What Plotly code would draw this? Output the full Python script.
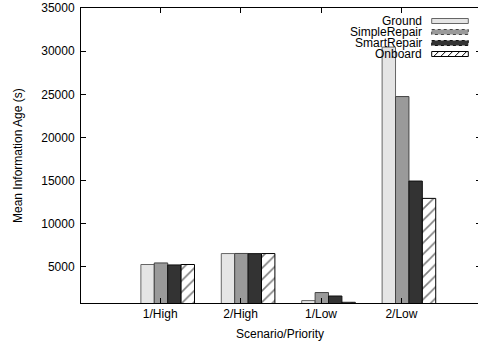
import plotly.graph_objects as go

# ---- data ----
categories = ["1/High", "2/High", "1/Low", "2/Low"]
series_names = ["Ground", "SimpleRepair", "SmartRepair", "Onboard"]
ground = [5280, 6550, 1100, 30470]
simple_repair = [5460, 6560, 2030, 24740]
smart_repair = [5230, 6540, 1630, 14950]
onboard = [5280, 6550, 900, 12940]
y_ticks = [5000, 10000, 15000, 20000, 25000, 30000, 35000]

# ---- layout constants ----
W, H = 478, 343
L, R, T, B = 81, 0, 8, 40
PW, PH = W - L - R, H - T - B
FONT = "Liberation Sans, Arial, Helvetica, sans-serif"
FS = 12


def px(x):
    return (x - L) / PW


def py(y):
    return (H - B - y) / PH


styles = [
    dict(color="#e5e5e5", line=dict(color="#666666", width=1), pattern=None),
    dict(color="#9a9a9a", line=dict(color="#444444", width=1), pattern=None),
    dict(color="#333333", line=dict(color="#111111", width=1), pattern=None),
    dict(color="white", line=dict(color="black", width=1),
         pattern=dict(shape="/", fgcolor="black", bgcolor="white", size=8, solidity=0.2)),
]

bw = 1 / 6
idx = list(range(len(categories)))
fig = go.Figure()
for j, (name, vals) in enumerate(zip(series_names, [ground, simple_repair, smart_repair, onboard])):
    st = styles[j]
    marker = dict(color=st["color"], line=st["line"])
    if st["pattern"]:
        marker["pattern"] = st["pattern"]
    fig.add_trace(go.Bar(
        x=[i + (j - 1.5) * bw for i in idx], y=vals, width=bw, name=name,
        marker=marker, showlegend=False,
    ))

# invisible trace to activate right mirror y axis
fig.add_trace(go.Scatter(x=[0], y=[y_ticks[0]], yaxis="y2", mode="markers",
                         marker=dict(opacity=0), showlegend=False, hoverinfo="skip"))

xr = [-1.078, 3.859]
yr = [820, 35000]
fig.update_layout(
    width=W, height=H,
    margin=dict(l=L, r=R, t=T, b=B, pad=0),
    paper_bgcolor="white", plot_bgcolor="white",
    barmode="overlay",
    font=dict(family=FONT, size=FS, color="black"),
    xaxis=dict(range=xr, tickvals=[i - 0.093 for i in idx], ticktext=categories,
               ticks="inside", ticklen=5, tickcolor="black", showline=True,
               linecolor="black", linewidth=1, mirror="ticks", showgrid=False,
               zeroline=False, tickfont=dict(size=FS), fixedrange=True),
    yaxis=dict(range=yr, tickvals=y_ticks, ticktext=[str(v) for v in y_ticks],
               ticks="inside", ticklen=5,
               tickcolor="black", showline=True, linecolor="black", linewidth=1,
               showgrid=False, zeroline=False, ticklabelstandoff=3,
               tickfont=dict(size=FS)),
    yaxis2=dict(range=yr, tickvals=y_ticks, overlaying="y", side="right",
                ticks="inside", ticklen=2, tickcolor="black", showline=False,
                showticklabels=False, showgrid=False, zeroline=False),
)

# axis titles
fig.add_annotation(text="Mean Information Age (s)", x=px(18), y=py(156), xref="paper", yref="paper",
                   textangle=-90, showarrow=False, font=dict(size=FS), xanchor="center", yanchor="middle")
fig.add_annotation(text="Scenario/Priority", x=0.5, y=py(334), xref="paper", yref="paper",
                   showarrow=False, font=dict(size=FS), xanchor="center", yanchor="middle")

# legend (gnuplot style: text then swatch)
row_y = [21, 32, 43, 54]
sx0, sx1, sh = 431.7, 468.3, 5
for j, name in enumerate(series_names):
    yc = row_y[j]
    fig.add_annotation(text=name, x=px(424), y=py(yc), xref="paper", yref="paper",
                       showarrow=False, xanchor="right", yanchor="middle", font=dict(size=FS))
    st = styles[j]
    dash = "dot" if j in (1, 2) else "solid"
    fig.add_shape(type="rect", xref="paper", yref="paper",
                  x0=px(sx0), x1=px(sx1), y0=py(yc - sh / 2), y1=py(yc + sh / 2),
                  fillcolor=st["color"], line=dict(color=st["line"]["color"], width=1, dash=dash))
    if st["pattern"]:
        path = ""
        step = 7
        xx = sx0 + 2
        while xx + sh <= sx1 + 0.1:
            path += f"M {px(xx)} {py(yc + sh / 2)} L {px(xx + sh)} {py(yc - sh / 2)} "
            xx += step
        fig.add_shape(type="path", xref="paper", yref="paper", path=path,
                      line=dict(color="black", width=1))

fig.write_html("out.html")
